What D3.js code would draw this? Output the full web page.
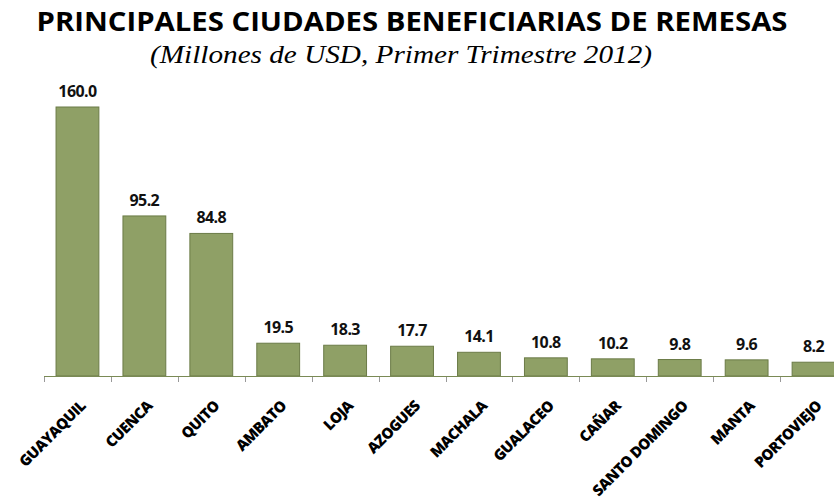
<!DOCTYPE html>
<html>
<head>
<meta charset="utf-8">
<script src="https://cdn.jsdelivr.net/npm/d3@7"></script>
<style>
  body { margin: 0; background: #fff; }
</style>
</head>
<body>
<svg width="834" height="502"></svg>
<script>
var ciudades = ["GUAYAQUIL", "CUENCA", "QUITO", "AMBATO", "LOJA", "AZOGUES",
    "MACHALA", "GUALACEO", "CAÑAR", "SANTO DOMINGO", "MANTA", "PORTOVIEJO"];
var remesas = [160.0, 95.2, 84.8, 19.5, 18.3, 17.7, 14.1, 10.8, 10.2, 9.8, 9.6, 8.2];

var svg = d3.select("svg"),
    width = +svg.attr("width"),
    height = +svg.attr("height");

var baseY = 376;

var x = d3.scaleBand()
    .domain(ciudades)
    .range([44, 847])
    .paddingInner(0.36)
    .paddingOuter(0.18);

var y = d3.scaleLinear()
    .domain([0, 160])
    .range([baseY, 107]);

// title
svg.append("text")
    .attr("x", 412)
    .attr("y", 31)
    .attr("text-anchor", "middle")
    .attr("font-family", "'Open Sans', sans-serif")
    .attr("font-weight", "bold")
    .attr("font-size", "27px")
    .attr("textLength", 751)
    .attr("lengthAdjust", "spacingAndGlyphs")
    .attr("fill", "#000")
    .text("PRINCIPALES CIUDADES BENEFICIARIAS DE REMESAS");

svg.append("text")
    .attr("x", 401)
    .attr("y", 63)
    .attr("text-anchor", "middle")
    .attr("font-family", "'Liberation Serif', serif")
    .attr("font-style", "italic")
    .attr("font-size", "26px")
    .attr("textLength", 502)
    .attr("lengthAdjust", "spacingAndGlyphs")
    .attr("fill", "#000")
    .text("(Millones de USD, Primer Trimestre 2012)");

// bars
svg.append("g")
    .selectAll("rect")
    .data(remesas)
    .enter().append("rect")
    .attr("x", function (d, i) { return x(ciudades[i]); })
    .attr("y", function (d) { return y(d); })
    .attr("width", x.bandwidth())
    .attr("height", function (d) { return baseY - y(d); })
    .attr("fill", "#8fa066")
    .attr("stroke", "#6b7b47")
    .attr("stroke-width", 1);

// value labels
svg.append("g")
    .selectAll("text")
    .data(remesas)
    .enter().append("text")
    .attr("x", function (d, i) { return x(ciudades[i]) + x.bandwidth() / 2; })
    .attr("y", function (d) { return y(d) - 10; })
    .attr("text-anchor", "middle")
    .attr("font-family", "'Open Sans', sans-serif")
    .attr("font-weight", "bold")
    .attr("font-size", "16px")
    .attr("letter-spacing", "-0.6px")
    .attr("fill", "#111")
    .text(function (d) { return d.toFixed(1); });

// axis
var axis = svg.append("g");
axis.append("line")
    .attr("x1", 44).attr("x2", width)
    .attr("y1", baseY + 0.5).attr("y2", baseY + 0.5)
    .attr("stroke", "#7a8a55")
    .attr("stroke-width", 1);

var step = x.step();
axis.selectAll(".tick")
    .data(d3.range(ciudades.length + 1))
    .enter().append("line")
    .attr("class", "tick")
    .attr("x1", function (i) { return Math.round(44 + i * step) + 0.5; })
    .attr("x2", function (i) { return Math.round(44 + i * step) + 0.5; })
    .attr("y1", baseY + 1)
    .attr("y2", baseY + 6)
    .attr("stroke", "#999")
    .attr("stroke-width", 1);

// category labels
svg.append("g")
    .selectAll("text")
    .data(ciudades)
    .enter().append("text")
    .attr("transform", function (d) {
        var cx = x(d) + x.bandwidth() / 2 + 9;
        return "translate(" + cx + ",407) rotate(-45)";
    })
    .attr("text-anchor", "end")
    .attr("font-family", "'Open Sans', sans-serif")
    .attr("font-weight", "800")
    .attr("font-size", "15px")
    .attr("letter-spacing", "-0.6px")
    .attr("fill", "#000")
    .text(function (d) { return d; });
</script>
</body>
</html>
